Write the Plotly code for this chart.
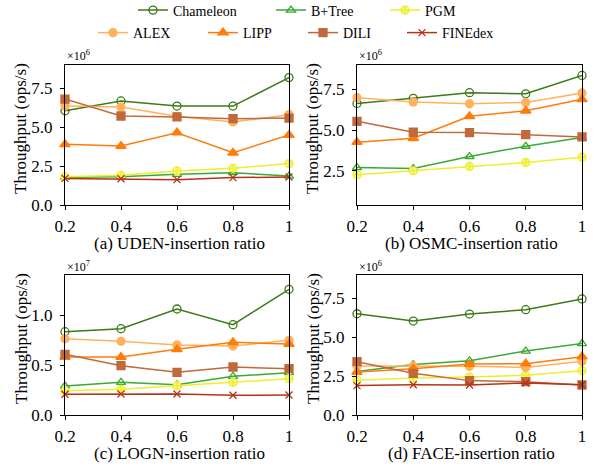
import plotly.graph_objects as go

x_ratio = [0.2, 0.4, 0.6, 0.8, 1.0]
x_ticktext = ["0.2", "0.4", "0.6", "0.8", "1"]

methods = ["Chameleon", "B+Tree", "PGM", "ALEX", "LIPP", "DILI", "FINEdex"]

# (a) UDEN, units 1e6
uden = {
    "Chameleon": [6.06, 6.69, 6.36, 6.36, 8.19],
    "B+Tree":    [1.78, 1.82, 1.97, 2.08, 1.86],
    "PGM":       [1.82, 1.91, 2.19, 2.36, 2.66],
    "ALEX":      [6.36, 6.30, 5.70, 5.34, 5.81],
    "LIPP":      [3.90, 3.79, 4.65, 3.36, 4.50],
    "DILI":      [6.81, 5.72, 5.66, 5.55, 5.59],
    "FINEdex":   [1.71, 1.69, 1.63, 1.76, 1.80],
}
# (b) OSMC, units 1e6 (FINEdex not shown)
osmc = {
    "Chameleon": [6.64, 6.95, 7.30, 7.23, 8.36],
    "B+Tree":    [2.70, 2.64, 3.38, 4.01, 4.54],
    "PGM":       [2.26, 2.50, 2.77, 3.01, 3.34],
    "ALEX":      [6.99, 6.72, 6.62, 6.70, 7.28],
    "LIPP":      [4.26, 4.50, 5.85, 6.19, 6.89],
    "DILI":      [5.54, 4.87, 4.85, 4.72, 4.58],
    "FINEdex":   [None, None, None, None, None],
}
# (c) LOGN, units 1e7
logn = {
    "Chameleon": [0.833, 0.863, 1.06, 0.903, 1.257],
    "B+Tree":    [0.290, 0.327, 0.303, 0.387, 0.423],
    "PGM":       [0.243, 0.257, 0.293, 0.327, 0.363],
    "ALEX":      [0.763, 0.737, 0.700, 0.690, 0.747],
    "LIPP":      [0.580, 0.580, 0.657, 0.727, 0.710],
    "DILI":      [0.607, 0.493, 0.427, 0.480, 0.463],
    "FINEdex":   [0.207, 0.210, 0.210, 0.197, 0.200],
}
# (d) FACE, units 1e6
face = {
    "Chameleon": [6.51, 6.04, 6.49, 6.77, 7.46],
    "B+Tree":    [2.79, 3.24, 3.49, 4.11, 4.59],
    "PGM":       [2.23, 2.38, 2.44, 2.55, 2.85],
    "ALEX":      [3.15, 3.15, 3.13, 3.06, 3.45],
    "LIPP":      [2.76, 2.98, 3.28, 3.30, 3.75],
    "DILI":      [3.43, 2.68, 2.21, 2.14, 1.93],
    "FINEdex":   [1.89, 1.95, 1.93, 2.06, 1.95],
}

panels = [
    ("(a) UDEN-insertion ratio", uden, "×10<sup>6</sup>", [0, 9], [0, 2.5, 5.0, 7.5]),
    ("(b) OSMC-insertion ratio", osmc, "×10<sup>6</sup>", [0.4, 9], [2.5, 5.0, 7.5]),
    ("(c) LOGN-insertion ratio", logn, "×10<sup>7</sup>", [0, 1.4], [0.0, 0.5, 1.0]),
    ("(d) FACE-insertion ratio", face, "×10<sup>6</sup>", [0, 9], [0.0, 2.5, 5.0, 7.5]),
]

styles = {
    "Chameleon": dict(color="#3b7a17", symbol="circle-open", size=8, fill="#3b7a17"),
    "B+Tree":    dict(color="#3aaa35", symbol="triangle-up-open", size=8, fill="#3aaa35"),
    "PGM":       dict(color="#eeee2a", symbol="circle-cross", size=8, fill="#f6f68a"),
    "ALEX":      dict(color="#ffb25e", symbol="circle", size=8, fill="#ffb25e"),
    "LIPP":      dict(color="#ff7c0a", symbol="triangle-up", size=9, fill="#ff7c0a"),
    "DILI":      dict(color="#c0693b", symbol="square", size=8, fill="#c0693b"),
    "FINEdex":   dict(color="#b5331a", symbol="x-thin-open", size=7, fill="#b5331a"),
}

W, H = 594, 466
FONT = "Liberation Serif, Times New Roman, serif"

# pixel geometry of the four plot areas: (left, right, top, bottom)
boxes = [(65, 289, 65, 205), (357, 582, 65, 205), (65, 289, 275, 415), (357, 582, 275, 415)]

fig = go.Figure()
layout = dict(
    width=W, height=H, margin=dict(l=0, r=0, t=0, b=0, autoexpand=False),
    paper_bgcolor="white", plot_bgcolor="white",
    font=dict(family=FONT, size=17, color="black"),
    showlegend=True,
)

# legend positions (line start x px, row y px)
legend_pos = {
    "Chameleon": (138, 10.5), "B+Tree": (276, 10.5), "PGM": (390, 10.5),
    "ALEX": (98, 33), "LIPP": (208, 33), "DILI": (308, 33), "FINEdex": (407, 33),
}

annotations = []
for i, (title, data, expo, yr, ytv) in enumerate(panels):
    l, r, t, b = boxes[i]
    xa = "xaxis" if i == 0 else f"xaxis{i+1}"
    ya = "yaxis" if i == 0 else f"yaxis{i+1}"
    xref = "x" if i == 0 else f"x{i+1}"
    yref = "y" if i == 0 else f"y{i+1}"
    layout[xa] = dict(
        domain=[l / W, r / W], anchor=yref, range=[0.2, 1.0],
        tickvals=x_ratio, ticktext=x_ticktext, ticks="outside", ticklen=4,
        tickcolor="black", showline=True, linecolor="black", linewidth=1, mirror=True,
        showgrid=False, zeroline=False, tickfont=dict(size=17, family=FONT),
        ticklabelstandoff=2, automargin=False,
    )
    layout[ya] = dict(
        domain=[1 - b / H, 1 - t / H], anchor=xref, range=yr,
        tickvals=ytv, tickformat=".1f", ticks="outside", ticklen=4,
        tickcolor="black", showline=True, linecolor="black", linewidth=1, mirror=True,
        showgrid=False, zeroline=False, tickfont=dict(size=17, family=FONT),
        ticklabelstandoff=4, automargin=False,
    )
    for k, m in enumerate(methods):
        st = styles[m]
        lg = "legend" if k == 0 else f"legend{k+1}"
        fig.add_trace(go.Scatter(
            x=x_ratio, y=data[m], name=m, mode="lines+markers",
            xaxis=xref, yaxis=yref, cliponaxis=False,
            line=dict(color=st["color"], width=1.5),
            marker=dict(symbol=st["symbol"], size=st["size"], color=st["fill"],
                        line=dict(color=st["color"], width=1.3)),
            showlegend=(i == 0), legend=lg,
        ))
    # exponent
    annotations.append(dict(text=expo, x=l / W, y=1 - (t - 9) / H, xref="paper", yref="paper",
                            xanchor="left", yanchor="middle", showarrow=False,
                            font=dict(size=12, family=FONT)))
    # x title
    annotations.append(dict(text=title, x=((l + r) / 2 + 2) / W, y=1 - (b + 38) / H,
                            xref="paper", yref="paper", xanchor="center", yanchor="middle",
                            showarrow=False, font=dict(size=17, family=FONT)))
    # y title
    annotations.append(dict(text="Throughput (ops/s)", x=(l - 44) / W, y=1 - (t + 64) / H,
                            xref="paper", yref="paper", xanchor="center", yanchor="middle",
                            textangle=-90, showarrow=False, font=dict(size=17, family=FONT)))

for k, m in enumerate(methods):
    lg = "legend" if k == 0 else f"legend{k+1}"
    px, py = legend_pos[m]
    layout[lg] = dict(
        x=(px - 5) / W, y=1 - py / H, xanchor="left", yanchor="middle",
        orientation="h", bgcolor="rgba(0,0,0,0)", borderwidth=0,
        font=dict(size=14, family=FONT), itemwidth=30,
    )

layout["annotations"] = annotations
fig.update_layout(**layout)
fig.write_html("out.html")
